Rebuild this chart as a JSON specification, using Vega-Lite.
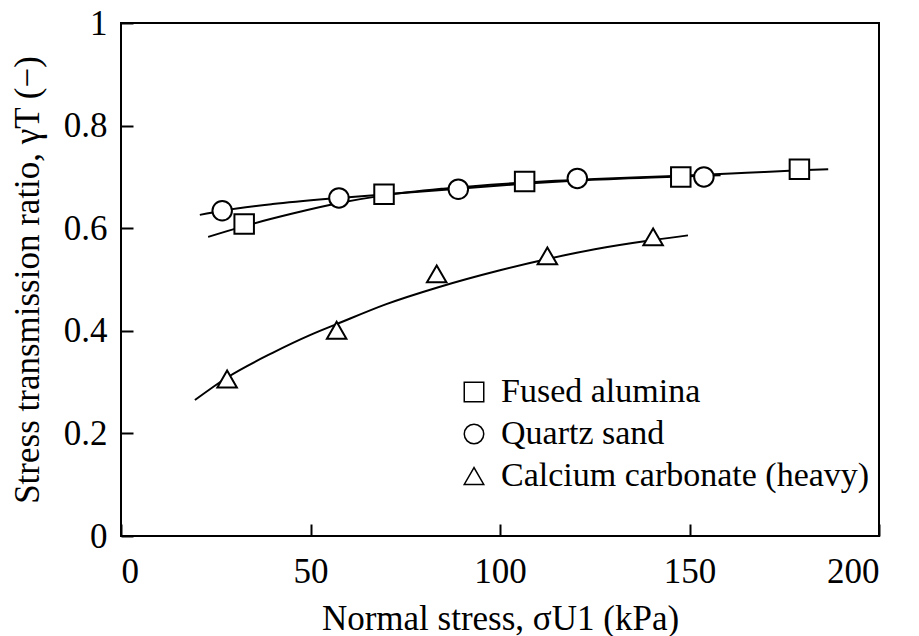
{
  "$schema": "https://vega.github.io/schema/vega-lite/v6.json",
  "width": 758,
  "height": 513,
  "autosize": {"type": "none"},
  "padding": {"left": 121, "top": 23, "right": 40, "bottom": 100},
  "background": "white",
  "config": {
    "font": "Liberation Serif",
    "view": {"stroke": "black", "strokeWidth": 2},
    "axis": {
      "domain": false,
      "grid": false,
      "tickColor": "black",
      "tickWidth": 2,
      "tickSize": -12,
      "labelFont": "Liberation Serif",
      "labelFontSize": 35,
      "labelColor": "black",
      "titleFont": "Liberation Serif",
      "titleFontSize": 35,
      "titleFontWeight": "normal",
      "titleColor": "black"
    },
    "legend": {
      "labelFont": "Liberation Serif",
      "labelFontSize": 34,
      "labelColor": "black",
      "labelLimit": 0,
      "padding": 0
    }
  },
  "data": {
    "values": [
      {"series": "Fused alumina", "kind": "point", "x": 32.5, "y": 0.608},
      {"series": "Fused alumina", "kind": "point", "x": 69.4, "y": 0.666},
      {"series": "Fused alumina", "kind": "point", "x": 106.5, "y": 0.691},
      {"series": "Fused alumina", "kind": "point", "x": 147.7, "y": 0.700},
      {"series": "Fused alumina", "kind": "point", "x": 179.0, "y": 0.715},
      {"series": "Quartz sand", "kind": "point", "x": 26.7, "y": 0.634},
      {"series": "Quartz sand", "kind": "point", "x": 57.5, "y": 0.659},
      {"series": "Quartz sand", "kind": "point", "x": 89.0, "y": 0.676},
      {"series": "Quartz sand", "kind": "point", "x": 120.4, "y": 0.697},
      {"series": "Quartz sand", "kind": "point", "x": 153.8, "y": 0.700},
      {"series": "Calcium carbonate (heavy)", "kind": "point", "x": 28.0, "y": 0.306},
      {"series": "Calcium carbonate (heavy)", "kind": "point", "x": 56.9, "y": 0.401},
      {"series": "Calcium carbonate (heavy)", "kind": "point", "x": 83.3, "y": 0.511},
      {"series": "Calcium carbonate (heavy)", "kind": "point", "x": 112.5, "y": 0.546},
      {"series": "Calcium carbonate (heavy)", "kind": "point", "x": 140.4, "y": 0.583},
      {"series": "Fused alumina", "kind": "fit", "x": 23.0, "y": 0.583},
      {"series": "Fused alumina", "kind": "fit", "x": 32.5, "y": 0.604},
      {"series": "Fused alumina", "kind": "fit", "x": 45.0, "y": 0.628},
      {"series": "Fused alumina", "kind": "fit", "x": 57.5, "y": 0.649},
      {"series": "Fused alumina", "kind": "fit", "x": 69.4, "y": 0.664},
      {"series": "Fused alumina", "kind": "fit", "x": 85.0, "y": 0.677},
      {"series": "Fused alumina", "kind": "fit", "x": 106.5, "y": 0.689},
      {"series": "Fused alumina", "kind": "fit", "x": 125.0, "y": 0.696},
      {"series": "Fused alumina", "kind": "fit", "x": 147.7, "y": 0.702},
      {"series": "Fused alumina", "kind": "fit", "x": 165.0, "y": 0.708},
      {"series": "Fused alumina", "kind": "fit", "x": 179.0, "y": 0.713},
      {"series": "Fused alumina", "kind": "fit", "x": 186.6, "y": 0.715},
      {"series": "Quartz sand", "kind": "fit", "x": 20.8, "y": 0.626},
      {"series": "Quartz sand", "kind": "fit", "x": 26.7, "y": 0.634},
      {"series": "Quartz sand", "kind": "fit", "x": 40.0, "y": 0.647},
      {"series": "Quartz sand", "kind": "fit", "x": 57.5, "y": 0.659},
      {"series": "Quartz sand", "kind": "fit", "x": 75.0, "y": 0.669},
      {"series": "Quartz sand", "kind": "fit", "x": 89.0, "y": 0.677},
      {"series": "Quartz sand", "kind": "fit", "x": 105.0, "y": 0.686},
      {"series": "Quartz sand", "kind": "fit", "x": 120.4, "y": 0.693},
      {"series": "Quartz sand", "kind": "fit", "x": 140.0, "y": 0.699},
      {"series": "Quartz sand", "kind": "fit", "x": 158.2, "y": 0.703},
      {"series": "Calcium carbonate (heavy)", "kind": "fit", "x": 19.5, "y": 0.265},
      {"series": "Calcium carbonate (heavy)", "kind": "fit", "x": 28.0, "y": 0.309},
      {"series": "Calcium carbonate (heavy)", "kind": "fit", "x": 40.0, "y": 0.357},
      {"series": "Calcium carbonate (heavy)", "kind": "fit", "x": 50.0, "y": 0.392},
      {"series": "Calcium carbonate (heavy)", "kind": "fit", "x": 56.9, "y": 0.413},
      {"series": "Calcium carbonate (heavy)", "kind": "fit", "x": 70.0, "y": 0.452},
      {"series": "Calcium carbonate (heavy)", "kind": "fit", "x": 83.3, "y": 0.484},
      {"series": "Calcium carbonate (heavy)", "kind": "fit", "x": 100.0, "y": 0.518},
      {"series": "Calcium carbonate (heavy)", "kind": "fit", "x": 112.5, "y": 0.540},
      {"series": "Calcium carbonate (heavy)", "kind": "fit", "x": 125.0, "y": 0.559},
      {"series": "Calcium carbonate (heavy)", "kind": "fit", "x": 140.4, "y": 0.577},
      {"series": "Calcium carbonate (heavy)", "kind": "fit", "x": 149.6, "y": 0.586}
    ]
  },
  "encoding": {
    "x": {
      "field": "x",
      "type": "quantitative",
      "scale": {"domain": [0, 200], "nice": false, "zero": false},
      "axis": {
        "values": [0, 50, 100, 150, 200],
        "title": "Normal stress, σU1 (kPa)",
        "labelPadding": 30,
        "titlePadding": 12
      }
    },
    "y": {
      "field": "y",
      "type": "quantitative",
      "scale": {"domain": [0, 1], "nice": false, "zero": false},
      "axis": {
        "values": [0, 0.2, 0.4, 0.6, 0.8, 1],
        "format": "~g",
        "title": "Stress transmission ratio, γT (−)",
        "labelPadding": 26,
        "titlePadding": 18
      }
    }
  },
  "layer": [
    {
      "transform": [{"filter": "datum.kind === 'fit'"}],
      "mark": {"type": "line", "interpolate": "monotone", "color": "black", "strokeWidth": 2},
      "encoding": {"detail": {"field": "series", "type": "nominal"}}
    },
    {
      "transform": [{"filter": "datum.kind === 'point'"}],
      "mark": {"type": "point", "filled": true, "fill": "white", "stroke": "black", "strokeWidth": 2, "opacity": 1},
      "encoding": {
        "shape": {
          "field": "series",
          "type": "nominal",
          "scale": {
            "domain": ["Fused alumina", "Quartz sand", "Calcium carbonate (heavy)"],
            "range": ["square", "circle", "triangle-up"]
          },
          "legend": {
            "title": null,
            "orient": "none",
            "legendX": 336,
            "legendY": 352,
            "labelOffset": 10,
            "rowPadding": 8,
            "encode": {
              "symbols": {
                "update": {
                  "fill": {"value": "white"},
                  "stroke": {"value": "black"},
                  "strokeWidth": {"value": 2},
                  "opacity": {"value": 1}
                }
              }
            }
          }
        },
        "size": {
          "field": "series",
          "type": "nominal",
          "scale": {
            "domain": ["Fused alumina", "Quartz sand", "Calcium carbonate (heavy)"],
            "range": [380, 380, 460]
          }
        }
      }
    }
  ]
}
